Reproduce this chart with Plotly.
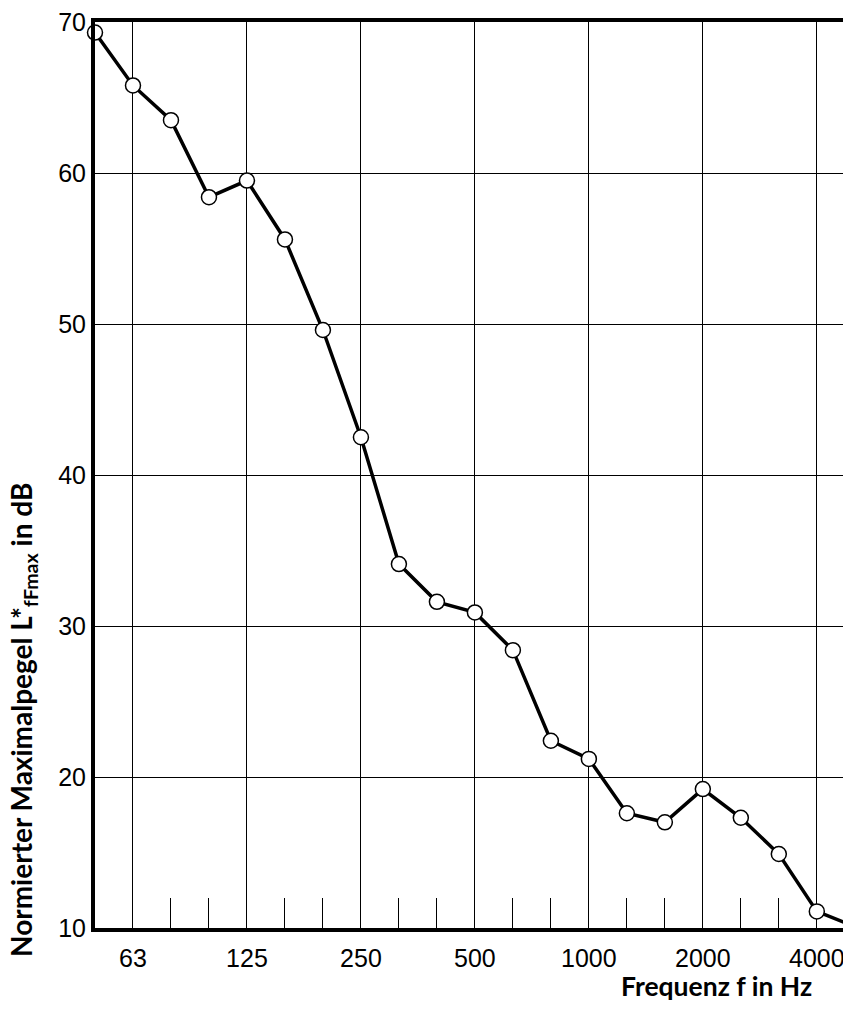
import plotly.graph_objects as go

bands = ["50", "63", "80", "100", "125", "160", "200", "250", "315", "400", "500",
         "630", "800", "1000", "1250", "1600", "2000", "2500", "3150", "4000", "5000"]
levels = [69.3, 65.8, 63.5, 58.4, 59.5, 55.6, 49.6, 42.5, 34.1, 31.6, 30.9,
          28.4, 22.4, 21.2, 17.6, 17.0, 19.2, 17.3, 14.9, 11.1, 10.1]
labeled_bands = ["63", "125", "250", "500", "1000", "2000", "4000"]
y_ticks = [10, 20, 30, 40, 50, 60, 70]

x = list(range(len(bands)))
major_idx = [bands.index(b) for b in labeled_bands]
minor_idx = [i for i in x if i not in major_idx and 0 < i < len(bands) - 1]

fig = go.Figure()
fig.add_trace(go.Scatter(
    x=x, y=levels, mode="lines+markers",
    line=dict(color="black", width=3.5),
    marker=dict(symbol="circle", size=15, color="white",
                line=dict(color="black", width=1.5)),
    cliponaxis=False, showlegend=False,
))

# page body has an 8px margin, so the figure is offset by 8px
fig.update_layout(
    width=843, height=1002,
    margin=dict(l=87, r=0, t=14, b=82),
    paper_bgcolor="white", plot_bgcolor="white",
    font=dict(family="Liberation Sans", size=25, color="black"),
    xaxis=dict(
        range=[0, 19.9],
        tickmode="array", tickvals=major_idx, ticktext=labeled_bands,
        showgrid=True, gridcolor="black", gridwidth=1.3,
        showline=True, linecolor="black", linewidth=4, mirror=True,
        ticks="", ticklabelstandoff=5,
        minor=dict(tickmode="array", tickvals=minor_idx, ticks="inside",
                   ticklen=30, tickwidth=1.2, tickcolor="black", showgrid=False),
        zeroline=False,
    ),
    yaxis=dict(
        range=[10, 70],
        tickmode="array", tickvals=y_ticks,
        showgrid=True, gridcolor="black", gridwidth=1,
        showline=True, linecolor="black", linewidth=4, mirror=False,
        ticks="", ticklabelstandoff=0, ticklabeloverflow="allow",
        zeroline=False,
    ),
)

fig.add_annotation(
    text="<b>Frequenz f in Hz</b>", xref="paper", yref="paper",
    x=(814 - 95) / 756, y=(928 - 986) / 906, xanchor="right", yanchor="middle",
    showarrow=False,
    font=dict(family="Lato", size=26.5, color="black"),
)
fig.add_annotation(
    text="<b>Normierter Maximalpegel L*<sub>fFmax</sub> in dB</b>",
    xref="paper", yref="paper",
    x=(23 - 95) / 756, y=(928 - 720) / 906, xanchor="center", yanchor="middle",
    textangle=-90, showarrow=False,
    font=dict(family="Lato", size=28, color="black"),
)

fig.write_html("out.html")
